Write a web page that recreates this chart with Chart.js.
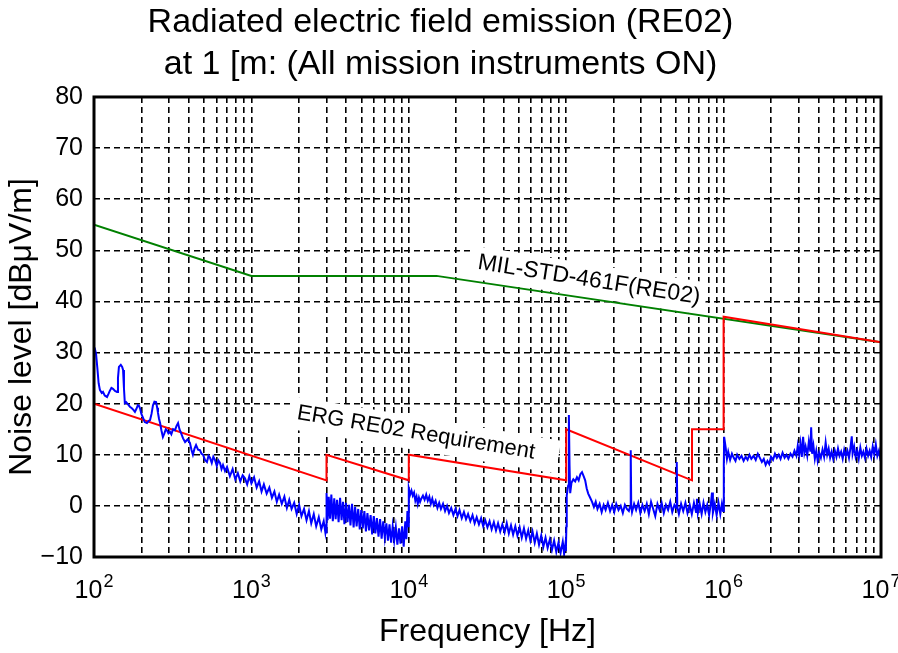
<!DOCTYPE html>
<html>
<head>
<meta charset="utf-8">
<script src="https://cdn.jsdelivr.net/npm/chart.js@4.4.1/dist/chart.umd.min.js"></script>
<style>
  body { margin: 0; background: #fff; }
</style>
</head>
<body>
<canvas id="reChart" width="898" height="653"></canvas>
<script>
// decades shown on the frequency axis (10^2 .. 10^7)
const xDecades = [2, 3, 4, 5, 6, 7];

// MIL-STD-461F RE02 limit
const milHz = [100, 1000, 15000, 10000000];
const milDb = [55, 45, 45, 32];

// ERG RE02 requirement
const ergHz = [100, 3000, 3000, 10000, 10000, 100000, 100000, 630000, 630000, 1000000, 1000000, 10000000];
const ergDb = [20, 5, 10, 5, 10, 5, 15, 5, 15, 15, 37, 32];

const noise = [
  [100,31.0],[101,30.9],[103,29.8],[105,27],[107,24],[109,22.7],[112,22.1],[114,22.3],[117,21.6],[121,21.3],
  [124,22.0],[126,22.5],[129,23.1],[132,22.9],[136,22.5],[140,22.3],[142,25],[144,27.2],[148,27.6],[151,27.2],
  [153,26.6],[155,23],[157,20.1],[160,20.3],[164,19.9],[169,19.4],[174,19.1],[178,18.8],[182,18.4],[186,19.0],
  [190,19.7],[193,19.6],[196,19.1],[200,18.0],[205,17.2],[210,16.4],[217,16.2],[222,16.6],[227,16.8],[232,18.0],
  [237,19.7],[242,20.4],[248,20.3],[252,19.2],[255,18.2],[259,17.0],[263,16.2],[268,14.8],[274,13.5],[280,14.2],
  [286,15.0],[291,14.8],[297,14.2],[304,14.5],[310,14.0],[318,15.0],[327,14.8],[334,15.6],[342,16.2],[349,15.0],
  [357,14.3],[368,13.2],[379,12.5],[393,13.0],[407,12.3],[416,11.0],[425,10.0],[435,11.2],[445,11.9],[458,11.0],
  [471,10.9],[482,10.2],[493,10.0],[507,9.0],[522,8.6],[534,9.8],[546,9.4],[560,8.4],[573,9.6],[587,9.0],
  [603,7.8],[617,8.9],[632,8.4],[646,7.2],[660,8.0],[680,6.8],[700,7.6],[730,5.8],[760,7.2],[790,5.2],
  [820,6.4],[850,4.8],[880,6.0],[910,5.4],[940,4.2],[970,5.8],[1000,4.4],[1040,5.6],[1080,3.6],[1120,4.8],
  [1160,2.8],[1200,4.2],[1250,2.4],[1300,3.6],[1350,1.6],[1400,2.8],[1450,0.8],[1500,2.2],[1560,0.4],[1620,1.8],
  [1680,-0.4],[1740,1.2],[1800,-0.6],[1870,0.6],[1940,-1.6],[2010,0.2],[2080,-2.0],[2160,-0.6],[2240,-2.8],[2320,-1.0],
  [2400,-3.4],[2490,-1.6],[2580,-4.0],[2680,-2.2],[2780,-4.6],[2880,-3.0],[2950,-5.2],[2990,-3.6],
  [3000,-5.4],[3005,2.5],[3050,-2.8],[3100,1.8],[3160,-2.5],[3220,2.2],[3290,-3.0],[3360,1.5],[3430,-2.6],[3500,1.2],
  [3580,-3.2],[3660,1.6],[3740,-2.8],[3820,0.8],[3900,-3.6],[3990,0.6],[4080,-3.2],[4170,0.2],[4260,-3.8],[4360,0.4],
  [4460,-4.2],[4560,-0.2],[4660,-4.0],[4770,-0.6],[4880,-4.6],[4990,-0.8],[5100,-4.4],[5220,-1.0],[5340,-5.0],[5460,-1.4],
  [5590,-4.8],[5720,-1.8],[5850,-5.6],[5990,-2.0],[6130,-5.4],[6270,-2.4],[6420,-6.0],[6570,-2.6],[6720,-6.4],[6880,-3.0],
  [7040,-6.2],[7200,-3.4],[7370,-6.8],[7540,-3.6],[7720,-7.2],[7900,-4.0],[8080,-6.8],[8270,-4.2],[8460,-7.6],[8660,-4.4],
  [8860,-7.4],[9070,-4.0],[9280,-8.0],[9500,-3.0],[9650,-6.5],[9800,-1.0],[9900,-4.0],[9980,1.0],
  [10020,3.4],[10200,2.2],[10400,3.0],[10600,2.0],[10800,2.6],[11000,1.0],[11200,1.8],[11400,0.4],[11600,1.6],[11800,0.8],
  [12000,1.4],[12300,2.0],[12600,1.2],[12900,2.2],[13200,1.0],[13500,1.8],[13800,0.4],[14100,1.4],[14400,0.2],[14800,1.0],
  [15200,-0.4],[15600,0.6],[16000,-0.6],[16500,0.4],[17000,-1.0],[17500,0.0],[18000,-1.4],[18600,-0.4],[19200,-1.8],[19800,-0.6],
  [20400,-2.0],[21000,-0.8],[21700,-2.4],[22400,-1.2],[23100,-2.6],[23800,-1.6],[24600,-3.0],[25400,-1.8],[26200,-3.4],[27000,-2.2],
  [27900,-3.6],[28800,-2.4],[29700,-4.0],[30600,-2.8],[31600,-4.2],[32600,-3.0],[33600,-4.6],[34700,-3.2],[35800,-4.8],[36900,-3.4],
  [38100,-5.0],[39300,-3.6],[40600,-5.2],[41900,-3.4],[43200,-5.4],[44600,-3.8],[46000,-5.6],[47500,-4.0],[49000,-5.8],[50600,-4.2],
  [52200,-6.2],[53900,-4.4],[55600,-6.4],[57400,-4.8],[59200,-6.8],[61100,-5.0],[63100,-7.2],[65100,-5.4],[67200,-7.6],[69400,-5.8],
  [71600,-8.0],[73900,-6.2],[76200,-8.2],[78700,-6.6],[81200,-8.6],[83800,-6.8],[86500,-9.0],[89300,-7.2],[92100,-9.2],[95100,-7.0],
  [97000,-9.4],[98500,-7.8],[99500,-8.8],
  [100300,-4.0],[100800,2.0],[102000,3.2],[103000,4.0],[104000,17.8],[105000,8.0],[106000,2.5],[108000,4.5],[111000,5.2],[114000,4.8],
  [117000,5.6],[120000,5.0],[123000,6.2],[126000,6.6],[129000,5.8],[132000,5.0],[135000,3.4],[138000,2.4],[142000,1.6],[146000,0.8],
  [150000,-0.2],[154000,0.8],[158000,-0.6],[163000,0.4],[168000,-1.2],[173000,0.2],[178000,-0.8],[184000,0.6],[190000,-1.0],[196000,0.2],
  [202000,-1.2],[208000,0.4],[215000,-0.8],[222000,0.0],[229000,-1.4],[236000,0.2],[243000,-0.6],[250000,-1.0],[255000,0.0],[257000,10.9],
  [259000,0.0],[262000,-1.2],[270000,0.4],[278000,-0.8],[287000,0.6],[296000,-1.4],[305000,0.2],[315000,-1.0],[325000,0.4],[335000,-1.6],
  [346000,0.8],[357000,-0.6],[368000,-2.0],[380000,0.4],[392000,-0.8],[404000,0.6],[417000,-1.4],[430000,0.2],[444000,-0.8],[458000,0.8],
  [472000,-1.2],[487000,0.2],[500000,-0.4],[504000,8.6],[508000,-0.2],[520000,-1.6],[537000,0.4],[554000,-1.0],[572000,0.6],[590000,-1.4],
  [609000,0.2],[628000,-1.6],[648000,0.6],[668000,-1.2],[677000,1.4],[686000,-1.4],[705000,0.4],[725000,-1.6],[745000,0.6],[766000,-1.2],
  [787000,0.2],[809000,-1.8],[831000,0.6],[844000,2.6],[855000,-1.4],[879000,0.4],[903000,-1.8],[928000,0.6],[953000,-1.6],[975000,0.4],
  [992000,-1.0],
  [1003000,8.0],[1008000,13.5],[1030000,11.5],[1050000,9.2],[1070000,10.6],[1100000,9.0],[1130000,10.2],[1160000,9.4],[1190000,8.8],[1220000,10.0],
  [1260000,9.2],[1300000,9.8],[1340000,8.8],[1380000,9.6],[1420000,9.0],[1460000,10.0],[1500000,9.2],[1550000,9.8],[1600000,9.0],[1650000,10.2],
  [1700000,9.4],[1750000,8.6],[1800000,9.2],[1850000,8.0],[1900000,8.8],[1950000,8.2],[2000000,9.6],[2060000,9.0],[2120000,10.2],[2180000,9.4],
  [2240000,10.0],[2300000,9.2],[2370000,10.4],[2440000,9.4],[2510000,10.0],[2580000,9.2],[2660000,10.2],[2740000,9.6],[2820000,10.8],[2900000,9.8],
  [2960000,11.8],[3020000,10.0],[3080000,12.2],[3140000,9.6],[3200000,13.5],[3260000,10.4],[3320000,11.6],[3400000,9.8],[3480000,12.6],[3560000,10.6],
  [3600000,15.4],[3650000,10.2],[3720000,11.8],[3800000,9.2],[3880000,10.8],[3960000,8.8],[4050000,10.4],[4150000,9.4],[4250000,11.0],[4350000,9.6],
  [4450000,12.4],[4550000,10.0],[4650000,11.2],[4750000,9.4],[4860000,10.6],[4970000,9.2],[5090000,10.8],[5210000,9.6],[5330000,11.2],[5450000,9.8],
  [5580000,10.6],[5710000,9.2],[5840000,11.0],[5980000,9.8],[6120000,10.8],[6260000,9.4],[6400000,11.4],[6520000,13.6],[6600000,10.2],[6750000,11.6],
  [6900000,9.6],[7060000,10.8],[7220000,9.2],[7390000,11.4],[7560000,9.8],[7730000,10.6],[7910000,9.4],[8090000,11.2],[8280000,9.8],[8470000,10.8],
  [8660000,9.6],[8860000,11.6],[9060000,10.0],[9270000,12.0],[9480000,9.8],[9700000,10.8],[9850000,9.6],[10000000,10.4]
];

const fam = '"Liberation Sans", Arial, sans-serif';

// grid positions on the log axis: 1..9 x 10^n
const gridHz = [];
xDecades.forEach(function (e) {
  for (let m = 1; m <= 9; m++) {
    if (e === 7 && m > 1) break;
    gridHz.push(m * Math.pow(10, e));
  }
});

function drawTag(ctx, text, size, cx, cy, angle, padL, padR) {
  ctx.save();
  ctx.translate(cx, cy);
  ctx.rotate(angle * Math.PI / 180);
  ctx.font = size + 'px ' + fam;
  const w = ctx.measureText(text).width;
  ctx.fillStyle = '#fff';
  ctx.fillRect(-w / 2 - padL, -16, w + padL + padR, 33);
  ctx.fillStyle = '#000';
  ctx.textAlign = 'center';
  ctx.textBaseline = 'middle';
  ctx.fillText(text, 0, 0);
  ctx.restore();
}

const decorPlugin = {
  id: 'decor',
  beforeDatasetsDraw(chart) {
    const ctx = chart.ctx;
    const xs = chart.scales.x, ys = chart.scales.y;
    drawTag(ctx, 'MIL-STD-461F(RE02)', 23, xs.getPixelForValue(139600), ys.getPixelForValue(44.2), 9, 6, 6);
    drawTag(ctx, 'ERG RE02 Requirement', 22, xs.getPixelForValue(11110), ys.getPixelForValue(14.3), 9.5, 6, 24);
  },
  afterDraw(chart) {
    const ctx = chart.ctx;
    const a = chart.chartArea;
    const xs = chart.scales.x;
    ctx.save();
    ctx.strokeStyle = '#000';
    ctx.lineWidth = 3;
    ctx.strokeRect(a.left, a.top, a.right - a.left, a.bottom - a.top);
    ctx.fillStyle = '#000';
    ctx.textBaseline = 'alphabetic';
    ctx.textAlign = 'left';
    xDecades.forEach(function (e) {
      const px = xs.getPixelForValue(Math.pow(10, e));
      ctx.font = '25px ' + fam;
      const w1 = ctx.measureText('10').width;
      ctx.font = '18px ' + fam;
      const w2 = ctx.measureText(String(e)).width;
      const x0 = px - (w1 + w2 + 1) / 2;
      ctx.font = '25px ' + fam;
      ctx.fillText('10', x0, a.bottom + 41);
      ctx.font = '18px ' + fam;
      ctx.fillText(String(e), x0 + w1 + 1, a.bottom + 30);
    });
    ctx.restore();
  }
};

const ctx = document.getElementById('reChart').getContext('2d');
const reChart = new Chart(ctx, {
  type: 'line',
  data: {
    datasets: [
      {
        data: noise.map(p => ({ x: p[0], y: p[1] })),
        borderColor: '#0000ff',
        borderWidth: 2,
        pointRadius: 0
      },
      {
        data: ergHz.map((f, i) => ({ x: f, y: ergDb[i] })),
        borderColor: '#ff0000',
        borderWidth: 2,
        pointRadius: 0
      },
      {
        data: milHz.map((f, i) => ({ x: f, y: milDb[i] })),
        borderColor: '#008000',
        borderWidth: 2,
        pointRadius: 0
      }
    ]
  },
  options: {
    responsive: false,
    animation: false,
    layout: { padding: { right: 17 } },
    plugins: {
      legend: { display: false },
      tooltip: { enabled: false },
      title: {
        display: true,
        text: ['Radiated electric field emission (RE02)', 'at 1 [m: (All mission instruments ON)'],
        color: '#000',
        font: { family: fam, size: 34, weight: 'normal', lineHeight: 1.235 },
        padding: { top: 2, bottom: 11 }
      }
    },
    scales: {
      x: {
        type: 'logarithmic',
        min: 100,
        max: 10000000,
        afterBuildTicks(scale) {
          scale.ticks = gridHz.map(v => ({ value: v }));
        },
        ticks: { display: false },
        grid: { color: '#000', lineWidth: 1.6, drawTicks: false },
        border: { display: false, dash: [6, 4] },
        title: {
          display: true,
          text: 'Frequency [Hz]',
          color: '#000',
          font: { family: fam, size: 32 },
          padding: { top: 0, bottom: 2 }
        },
        afterFit(scale) { scale.height = 96; }
      },
      y: {
        min: -10,
        max: 80,
        ticks: {
          stepSize: 10,
          color: '#000',
          padding: 11,
          font: { family: fam, size: 25 },
          callback: v => (v < 0 ? '\u2212' + Math.abs(v) : v)
        },
        grid: { color: '#000', lineWidth: 1.6, drawTicks: false },
        border: { display: false, dash: [6, 4] },
        title: {
          display: true,
          text: 'Noise level [dBμV/m]',
          color: '#000',
          font: { family: fam, size: 32 },
          padding: { top: 3, bottom: 0 }
        },
        afterFit(scale) { scale.width = 94; }
      }
    }
  },
  plugins: [decorPlugin]
});
</script>
</body>
</html>
